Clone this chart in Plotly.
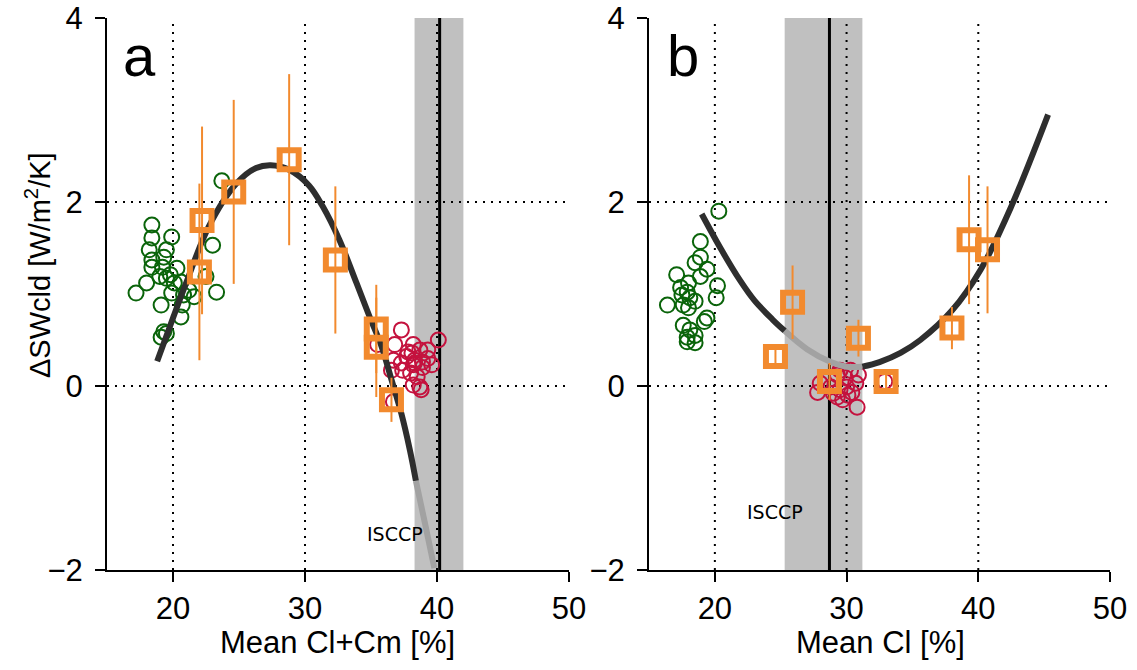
import plotly.graph_objects as go

W, H = 1137, 670

# ---------------- data ----------------
# panel a: Mean Cl+Cm
ga_x = [23.7, 18.4, 19.9, 18.4, 18.2, 19.5, 23.0, 18.4, 19.3, 18.4, 19.2, 20.3, 19.8, 19.5, 22.5, 18.0,
        20.1, 20.6, 17.2, 19.9, 20.8, 21.6, 23.3, 19.1, 20.7, 20.6, 19.3, 19.1, 19.5, 21.2, 19.0]
ga_y = [2.23, 1.75, 1.62, 1.61, 1.48, 1.48, 1.53, 1.37, 1.40, 1.29, 1.29, 1.28, 1.21, 1.17, 1.19, 1.12,
        1.12, 1.13, 1.01, 1.01, 0.99, 0.97, 1.02, 0.88, 0.88, 0.75, 0.59, 0.53, 0.57, 1.04, 1.19]
ra_x = [37.3, 40.1, 35.5, 36.8, 38.2, 38.7, 39.3, 37.7, 37.3, 38.2, 38.9, 36.55, 39.6, 38.5, 38.0, 38.7,
        38.8, 36.7, 37.4, 38.1, 38.9, 38.3, 37.8, 39.3, 38.2, 38.3, 36.7]
ra_y = [0.61, 0.50, 0.45, 0.45, 0.45, 0.39, 0.30, 0.32, 0.25, 0.23, 0.20, 0.17, 0.23, 0.10, 0.14, -0.01,
        -0.04, -0.17, 0.17, 0.36, 0.26, 0.28, 0.37, 0.39, 0.01, 0.25, 0.28]
sqa_x = [22.2, 22.0, 24.6, 28.8, 32.3, 35.4, 35.4, 36.55]
sqa_y = [1.80, 1.24, 2.11, 2.46, 1.37, 0.62, 0.42, -0.15]
sqa_e = [1.02, 0.96, 1.00, 0.93, 0.80, 0.48, 0.54, 0.24]
fita_x = [18.8, 20.0, 21.0, 22.7, 24.8, 26.3, 27.4, 28.8, 30.3, 31.35, 32.6, 33.9, 34.9, 35.8, 36.55,
          37.3, 37.95, 38.4]
fita_y = [0.27, 0.74, 1.12, 1.73, 2.20, 2.37, 2.40, 2.35, 2.18, 1.95, 1.59, 1.12, 0.75, 0.43, 0.07,
          -0.30, -0.70, -1.03]
fita_gx = [38.4, 39.1, 39.8]
fita_gy = [-1.03, -1.50, -1.98]
isccp_a = 40.2
band_a = [38.3, 42.0]

# panel b: Mean Cl
gb_x = [20.3, 18.9, 18.9, 18.5, 19.4, 17.1, 18.9, 18.0, 17.4, 20.2, 17.9, 17.5, 18.1, 20.1, 16.4, 18.5,
        17.6, 18.0, 19.4, 19.2, 17.6, 18.1, 18.5, 17.9, 18.5, 17.9]
gb_y = [1.90, 1.57, 1.40, 1.34, 1.27, 1.21, 1.19, 1.12, 1.07, 1.09, 1.02, 0.99, 0.96, 0.96, 0.88, 0.92,
        0.88, 0.85, 0.74, 0.70, 0.66, 0.61, 0.55, 0.53, 0.47, 0.48]
rb_x = [27.8, 28.0, 29.5, 30.3, 30.9, 30.7, 29.5, 29.3, 29.7, 30.1, 30.8, 30.0, 29.0, 29.9, 29.3, 30.4,
        28.8, 32.9]
rb_y = [-0.07, 0.03, 0.17, 0.17, 0.12, 0.03, -0.04, -0.12, -0.15, -0.10, -0.23, -0.01, -0.08, 0.09, 0.12,
        -0.07, -0.01, 0.05]
sqb_x = [24.6, 25.9, 28.7, 30.9, 33.0, 38.0, 39.3, 40.7]
sqb_y = [0.32, 0.91, 0.05, 0.52, 0.05, 0.63, 1.59, 1.48]
sqb_e = [0.10, 0.40, 0.20, 0.20, 0.10, 0.23, 0.70, 0.69]
fitb_x1 = [19.0, 20.5, 21.9, 23.0, 24.4, 25.3]
fitb_y1 = [1.87, 1.48, 1.15, 0.93, 0.72, 0.60]
fitb_gx = [25.3, 27.0, 28.8, 30.0, 31.2]
fitb_gy = [0.60, 0.40, 0.26, 0.21, 0.21]
fitb_x2 = [31.2, 32.5, 34.1, 35.6, 38.0, 40.2, 42.5, 45.3]
fitb_y2 = [0.21, 0.26, 0.36, 0.50, 0.82, 1.27, 1.95, 2.95]
isccp_b = 28.7
band_b = [25.3, 31.2]

x_ticks = [20, 30, 40, 50]
y_ticks = [-2, 0, 2, 4]
grid_x = [20, 30, 40]
grid_y = [0, 2]
x_range = [15, 50]
y_range = [-2, 4]

GREEN = "#0a640a"
RED = "#c4123e"
ORANGE = "#f28a2e"
CURVE = "#2e2e2e"
CURVE_G = "#a2a2a2"
BAND = "#c0c0c0"
FONT = "Liberation Sans"

fig = go.Figure()


def add_panel(xa, ya, gx, gy, rx, ry, sx, sy, se, fits):
    fig.add_trace(go.Scatter(x=gx, y=gy, mode="markers", xaxis=xa, yaxis=ya,
                             marker=dict(symbol="circle-open", size=15, color=GREEN,
                                         line=dict(width=2, color=GREEN)),
                             showlegend=False, hoverinfo="skip"))
    fig.add_trace(go.Scatter(x=rx, y=ry, mode="markers", xaxis=xa, yaxis=ya,
                             marker=dict(symbol="circle-open", size=15, color=RED,
                                         line=dict(width=2, color=RED)),
                             showlegend=False, hoverinfo="skip"))
    for fx, fy, col in fits:
        fig.add_trace(go.Scatter(x=fx, y=fy, mode="lines", xaxis=xa, yaxis=ya,
                                 line=dict(color=col, width=6, shape="spline"),
                                 showlegend=False, hoverinfo="skip"))
    fig.add_trace(go.Scatter(x=sx, y=sy, mode="markers", xaxis=xa, yaxis=ya,
                             error_y=dict(type="data", array=se, color=ORANGE, thickness=2, width=0),
                             marker=dict(symbol="square-open", size=19, color=ORANGE,
                                         line=dict(width=6, color=ORANGE)),
                             showlegend=False, hoverinfo="skip"))


add_panel("x", "y", ga_x, ga_y, ra_x, ra_y, sqa_x, sqa_y, sqa_e,
          [(fita_gx, fita_gy, CURVE_G), (fita_x, fita_y, CURVE)])
add_panel("x2", "y2", gb_x, gb_y, rb_x, rb_y, sqb_x, sqb_y, sqb_e,
          [(fitb_gx, fitb_gy, CURVE_G), (fitb_x1, fitb_y1, CURVE), (fitb_x2, fitb_y2, CURVE)])

shapes = []
for xr, yr, band, iscc in (("x", "y", band_a, isccp_a), ("x2", "y2", band_b, isccp_b)):
    shapes.append(dict(type="rect", xref=xr, yref=yr, x0=band[0], x1=band[1], y0=y_range[0], y1=y_range[1],
                       fillcolor=BAND, line=dict(width=0), layer="below"))
    for g in grid_x:
        shapes.append(dict(type="line", xref=xr, yref=yr, x0=g, x1=g, y0=y_range[0], y1=y_range[1],
                           line=dict(color="black", width=2, dash="2px,6px"), layer="below"))
    for g in grid_y:
        shapes.append(dict(type="line", xref=xr, yref=yr, x0=x_range[0], x1=x_range[1], y0=g, y1=g,
                           line=dict(color="black", width=2, dash="2px,6px"), layer="below"))
    shapes.append(dict(type="line", xref=xr, yref=yr, x0=iscc, x1=iscc, y0=y_range[0], y1=y_range[1],
                       line=dict(color="black", width=3), layer="below"))

axis_common = dict(showgrid=False, zeroline=False, showline=True, linecolor="black", linewidth=2,
                   ticks="outside", ticklen=10, tickwidth=2, tickcolor="black", automargin=False,
                   tickfont=dict(family=FONT, size=31, color="black"))

fig.update_layout(
    width=W, height=H,
    margin=dict(l=0, r=0, t=0, b=0, pad=0, autoexpand=False),
    paper_bgcolor="white", plot_bgcolor="white",
    shapes=shapes,
    xaxis=dict(domain=[107 / W, 569 / W], range=x_range, tickvals=x_ticks, anchor="y", **axis_common),
    yaxis=dict(domain=[100 / H, 652 / H], range=y_range, tickvals=y_ticks, anchor="x",
               ticklabelstandoff=6, **axis_common),
    xaxis2=dict(domain=[649 / W, 1110 / W], range=x_range, tickvals=x_ticks, anchor="y2", **axis_common),
    yaxis2=dict(domain=[100 / H, 652 / H], range=y_range, tickvals=y_ticks, anchor="x2",
                ticklabelstandoff=6, **axis_common),
    annotations=[
        dict(text="a", x=139 / W, y=1 - 56 / H, xref="paper", yref="paper", showarrow=False,
             font=dict(family=FONT, size=58, color="black"), xanchor="center", yanchor="middle"),
        dict(text="b", x=683 / W, y=1 - 56 / H, xref="paper", yref="paper", showarrow=False,
             font=dict(family=FONT, size=58, color="black"), xanchor="center", yanchor="middle"),
        dict(text="ISCCP", x=36.8, y=-1.61, xref="x", yref="y", showarrow=False,
             font=dict(family="DejaVu Sans", size=19, color="black")),
        dict(text="ISCCP", x=24.6, y=-1.37, xref="x2", yref="y2", showarrow=False,
             font=dict(family="DejaVu Sans", size=19, color="black")),
        dict(text="Mean Cl+Cm [%]", x=338 / W, y=1 - 642 / H, xref="paper", yref="paper", showarrow=False,
             font=dict(family=FONT, size=31, color="black"), xanchor="center", yanchor="middle"),
        dict(text="Mean Cl [%]", x=880 / W, y=1 - 642 / H, xref="paper", yref="paper", showarrow=False,
             font=dict(family=FONT, size=31, color="black"), xanchor="center", yanchor="middle"),
        dict(text="ΔSWcld [W/m<sup>2</sup>/K]", x=38 / W, y=1 - 265 / H, xref="paper", yref="paper",
             showarrow=False, textangle=-90,
             font=dict(family=FONT, size=29, color="black"), xanchor="center", yanchor="middle"),
    ],
)

fig.write_html("out.html")
